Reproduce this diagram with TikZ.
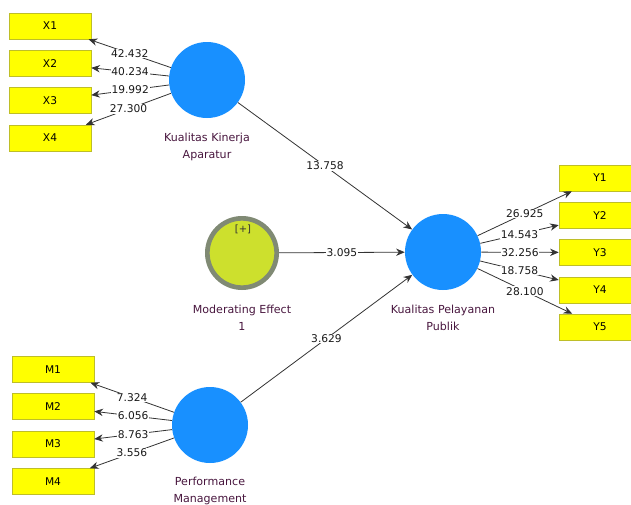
\documentclass[tikz,border=0pt]{standalone}
\usepackage{fontspec}
\setmainfont{DejaVu Sans}
\usetikzlibrary{arrows.meta}
\definecolor{latentblue}{RGB}{24,144,255}
\definecolor{indyellow}{RGB}{255,255,0}
\definecolor{indborder}{RGB}{190,190,40}
\definecolor{modfill}{RGB}{205,224,45}
\definecolor{modring}{RGB}{128,138,116}
\definecolor{nametext}{RGB}{72,22,62}
\begin{document}
\begin{tikzpicture}
        [x=0.75pt, y=-0.75pt,
        indicator/.style={rectangle, draw=indborder, fill=indyellow, minimum width=61.5pt, minimum height=19.5pt, font=\fontsize{8}{9}\selectfont},
        latent/.style={circle, fill=latentblue, minimum size=57pt, inner sep=0pt},
        moderator/.style={circle, draw=modring, line width=3.5pt, fill=modfill, minimum size=52pt, inner sep=0pt},
        latname/.style={text=nametext, align=center, font=\fontsize{8.3}{12.5}\selectfont},
        loading/.style={line width=0.6pt, black!80, -{Stealth[length=6.5pt, width=5.5pt]}},
        weight/.style={fill=white, inner sep=0.6pt, text=black!90, font=\fontsize{8}{9}\selectfont}]

        \useasboundingbox (0,0) rectangle (631,504);

        % Latent variables
        \node[latent] (kka) at (207,80) {};
        \node[latent] (kpp) at (443,252) {};
        \node[latent] (pm) at (210,425) {};
        \node[moderator] (mod) at (242,253) {};
        \node[text=black!80, font=\fontsize{7.5}{8}\selectfont] (plus) at (243,229) {[+]};

        % Names of the latent variables
        \node[latname] (kkaname) at (207,147) {Kualitas Kinerja\\Aparatur};
        \node[latname] (kppname) at (443,318) {Kualitas Pelayanan\\Publik};
        \node[latname] (modname) at (242,318) {Moderating Effect\\1};
        \node[latname] (pmname) at (210,491) {Performance\\Management};

        % Indicators
        \node[indicator] (x1) at (50,26) {X1};
        \node[indicator] (x2) at (50,63.5) {X2};
        \node[indicator] (x3) at (50,100.5) {X3};
        \node[indicator] (x4) at (50,138) {X4};
        \node[indicator] (y1) at (600,178) {Y1};
        \node[indicator] (y2) at (600,215.5) {Y2};
        \node[indicator] (y3) at (600,252.5) {Y3};
        \node[indicator] (y4) at (600,290) {Y4};
        \node[indicator] (y5) at (600,327) {Y5};
        \node[indicator] (m1) at (53,369.5) {M1};
        \node[indicator] (m2) at (53,406.5) {M2};
        \node[indicator] (m3) at (53,444) {M3};
        \node[indicator] (m4) at (53,481.5) {M4};

        % Outer model
        \draw[loading] (kka) -- (x1) node[midway, weight] {42.432};
        \draw[loading] (kka) -- (x2) node[midway, weight] {40.234};
        \draw[loading] (kka) -- (x3) node[midway, weight] {19.992};
        \draw[loading] (kka) -- (x4) node[midway, weight] {27.300};
        \draw[loading] (kpp) -- (y1) node[midway, weight] {26.925};
        \draw[loading] (kpp) -- (y2) node[midway, weight] {14.543};
        \draw[loading] (kpp) -- (y3) node[midway, weight] {32.256};
        \draw[loading] (kpp) -- (y4) node[midway, weight] {18.758};
        \draw[loading] (kpp) -- (y5) node[midway, weight] {28.100};
        \draw[loading] (pm) -- (m1) node[midway, weight] {7.324};
        \draw[loading] (pm) -- (m2) node[midway, weight] {6.056};
        \draw[loading] (pm) -- (m3) node[midway, weight] {8.763};
        \draw[loading] (pm) -- (m4) node[midway, weight] {3.556};

        % Inner model
        \draw[loading] (kka) -- (kpp) node[midway, weight] {13.758};
        \draw[loading] (mod) -- (kpp) node[midway, weight] {3.095};
        \draw[loading] (pm) -- (kpp) node[midway, weight] {3.629};

    \end{tikzpicture}
\end{document}
